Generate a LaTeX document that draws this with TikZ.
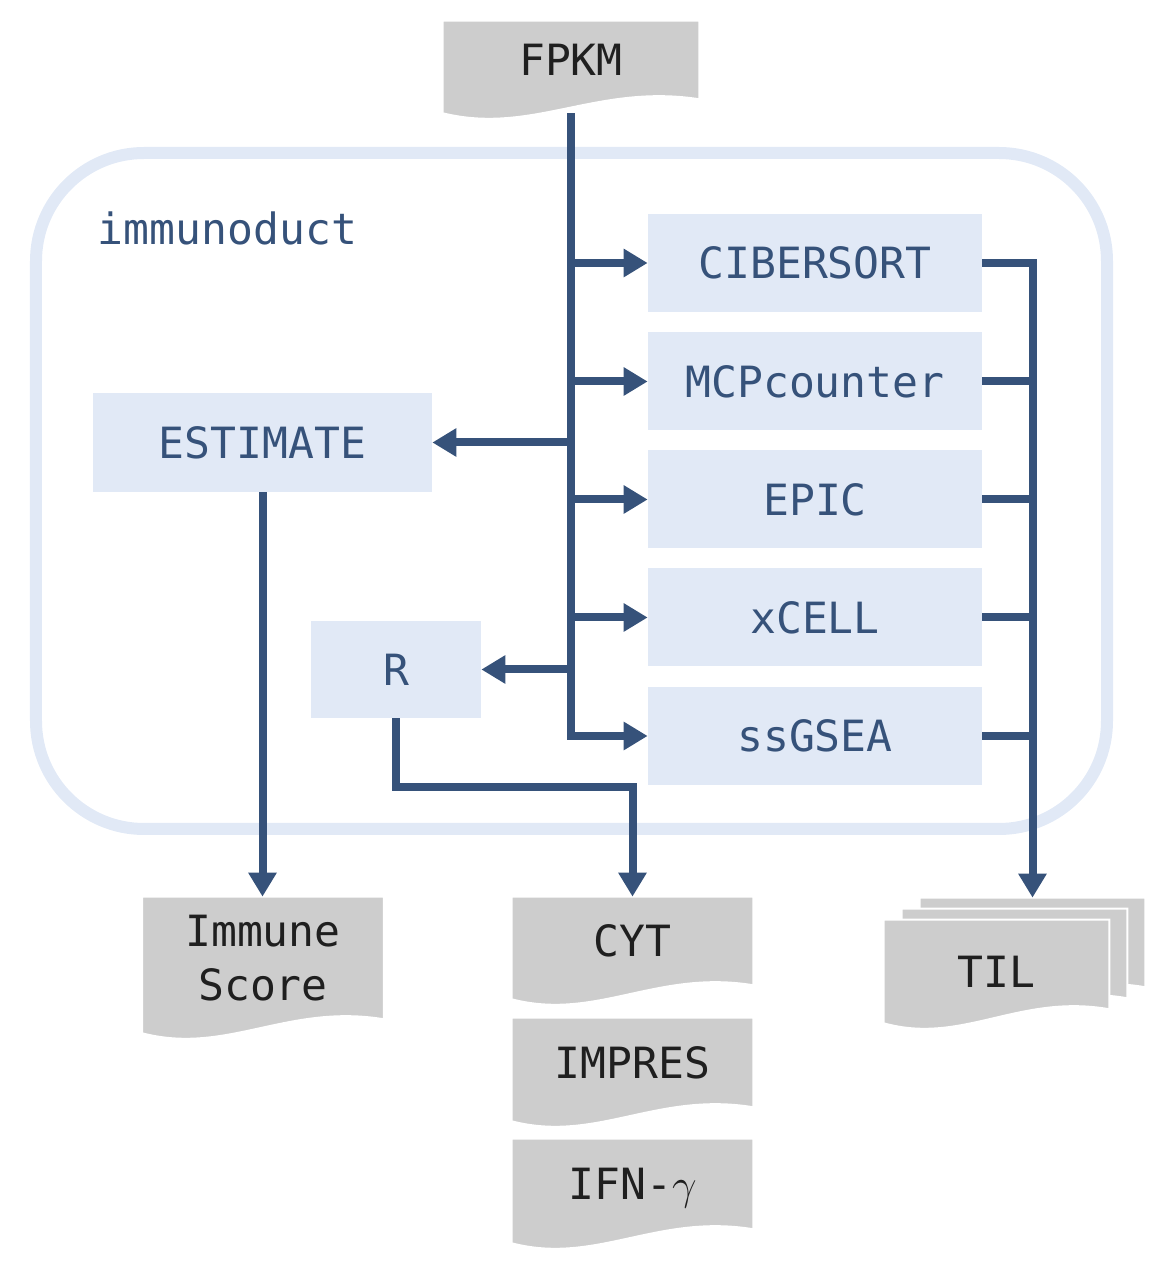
\documentclass[tikz,border=0pt]{standalone}
\usepackage{fontspec}
\setmonofont{DejaVu Sans Mono}
\usetikzlibrary{arrows.meta,calc,backgrounds}

\definecolor{flowblue}{HTML}{36527A}
\definecolor{boxblue}{HTML}{E1E9F6}
\definecolor{docgray}{HTML}{CDCDCD}
\definecolor{inkgray}{HTML}{1F1F1F}

\begin{document}
\begin{tikzpicture}[>={Triangle[length=0.48cm,width=0.54cm]},
  every node/.style={font=\ttfamily\fontsize{24.5}{31}\selectfont},
  tool/.style={rectangle,fill=boxblue,text=flowblue,inner sep=0pt},
  doc/.style={rectangle,inner sep=0pt,text=inkgray,align=center,minimum width=4.82cm,text depth=0.28cm},
  flow/.style={draw=flowblue,line width=0.16cm},
  sheet/.style={fill=docgray,draw=white,line width=1.2pt}]
  \useasboundingbox (0,0) rectangle (23.28,25.36);
  \node[draw=boxblue,line width=0.24cm,rounded corners=2.16cm,minimum width=21.42cm,minimum height=13.52cm] (suite) at (11.43,15.54) {};
  \node[text=flowblue,anchor=base west,inner sep=0pt] (suitename) at (1.95,20.46) {immunoduct};
  \node[doc,minimum width=5.12cm,minimum height=1.84cm] (fpkm) at (11.42,24.02) {FPKM};
  \node[tool,minimum width=6.68cm,minimum height=1.96cm] (cib) at (16.30,20.10) {CIBERSORT};
  \node[tool,minimum width=6.68cm,minimum height=1.96cm] (mcp) at (16.30,17.73) {MCPcounter};
  \node[tool,minimum width=6.68cm,minimum height=1.96cm] (epic) at (16.30,15.37) {EPIC};
  \node[tool,minimum width=6.68cm,minimum height=1.96cm] (xcell) at (16.30,13.01) {xCELL};
  \node[tool,minimum width=6.68cm,minimum height=1.96cm] (ssgsea) at (16.30,10.64) {ssGSEA};
  \node[tool,minimum width=6.78cm,minimum height=1.98cm] (estimate) at (5.25,16.51) {ESTIMATE};
  \node[tool,minimum width=3.40cm,minimum height=1.94cm] (r) at (7.92,11.97) {R};
  \node[doc,minimum height=2.72cm] (imm) at (5.26,6.06) {Immune\\Score};
  \node[doc,minimum height=2.04cm] (cyt) at (12.65,6.40) {CYT};
  \node[doc,minimum height=2.06cm] (impres) at (12.65,3.97) {IMPRES};
  \node[doc,minimum height=2.08cm] (ifn) at (12.65,1.54) {IFN-$\gamma$};
  \node[doc,minimum width=4.50cm,minimum height=2.06cm,text depth=0pt] (til) at (19.93,5.93) {TIL};
  \coordinate (tilin) at ($(til.north)+(0.72,0.44)$);

  % wavy sheets behind the texts
  \begin{scope}[on background layer]
    \foreach \n in {fpkm,imm,cyt,impres,ifn}
      \filldraw[sheet] (\n.north west) -- (\n.north east) -- ($(\n.south east)+(0,0.28)$)
        .. controls ($(\n.south west)!0.6!(\n.south east)+(0,0.6)$) and ($(\n.south west)!0.35!(\n.south east)+(0,-0.44)$) .. (\n.south west) -- cycle;
    \foreach \dx/\dy in {0.72/0.44,0.36/0.22,0/0}
      \filldraw[sheet] ($(til.north west)+(\dx,\dy)$) -- ($(til.north east)+(\dx,\dy)$) -- ($(til.south east)+(\dx,\dy+0.28)$)
        .. controls ($(til.south west)!0.6!(til.south east)+(\dx,\dy+0.6)$) and ($(til.south west)!0.35!(til.south east)+(\dx,\dy-0.44)$) .. ($(til.south west)+(\dx,\dy)$) -- cycle;
  \end{scope}

  \draw[flow,->] (fpkm.south) |- (ssgsea.west);
  \foreach \b in {cib,mcp,epic,xcell}
    \draw[flow,->] (\b.west -| fpkm.south) -- (\b.west);
  \foreach \b in {estimate,r}
    \draw[flow,->] (\b.east -| fpkm.south) -- (\b.east);
  \draw[flow,->] (cib.east) -| (tilin);
  \foreach \b in {mcp,epic,xcell,ssgsea}
    \draw[flow] (\b.east) -- (\b.east -| tilin);
  \draw[flow,->] (estimate.south) -- (estimate.south |- imm.north);
  \draw[flow,->] (r.south) -- ++(0,-1.38) -| (cyt.north);
\end{tikzpicture}
\end{document}
